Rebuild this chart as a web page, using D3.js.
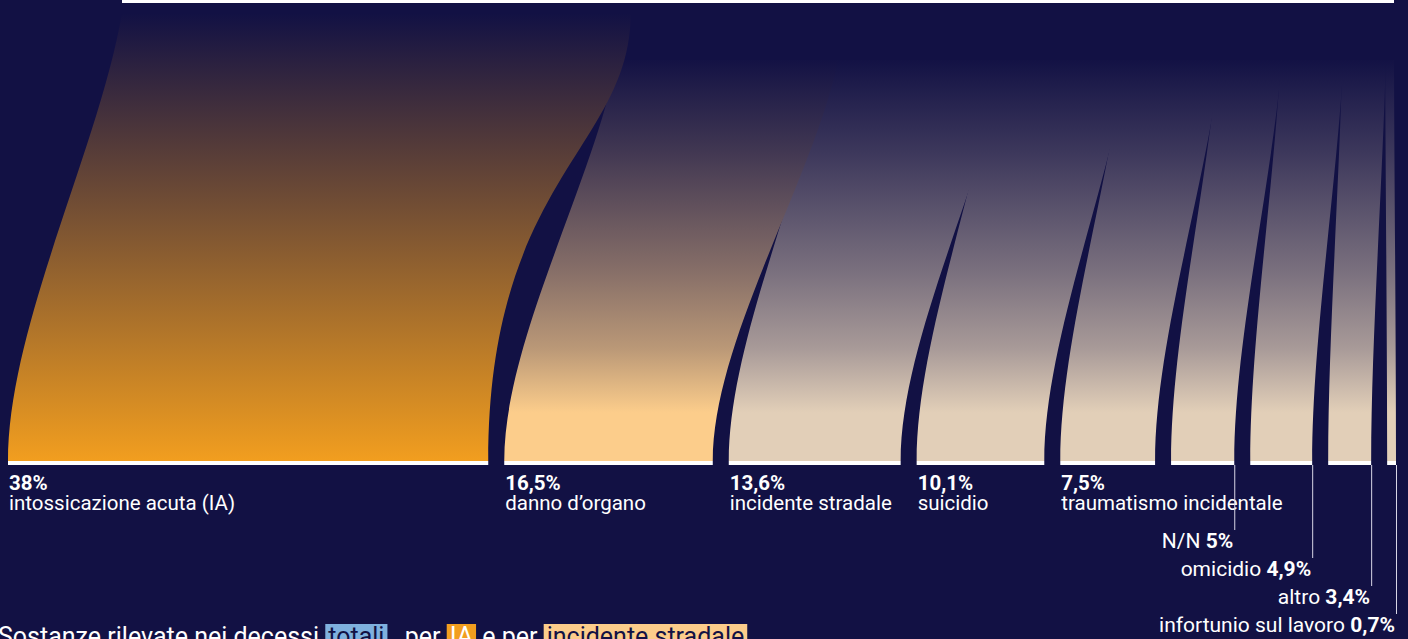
<!DOCTYPE html>
<html>
<head>
<meta charset="utf-8">
<script src="https://cdn.jsdelivr.net/npm/d3@7"></script>
<style>
  html, body { margin: 0; padding: 0; background: #121144; overflow: hidden; }
  svg { display: block; }
  text { font-family: Roboto, "Noto Sans", sans-serif; white-space: pre; }
</style>
</head>
<body>
<div id="chart"></div>
<script>
// causes of death, share of total (%)
const causes = ["intossicazione acuta (IA)", "danno d\u2019organo", "incidente stradale", "suicidio",
  "traumatismo incidentale", "N/N", "omicidio", "altro", "infortunio sul lavoro"];
const shares = [38, 16.5, 13.6, 10.1, 7.5, 5, 4.9, 3.4, 0.7];
const shareLabels = ["38%", "16,5%", "13,6%", "10,1%", "7,5%", "5%", "4,9%", "3,4%", "0,7%"];

// caption below the chart
const captionParts = ["Sostanze rilevate nei decessi ", "totali", " , per ", "IA", " e per ", "incidente stradale"];
const captionKeys = [null, "tot", null, "ia", null, "road"];

const width = 1408, height = 639;
const navy = "#121144";
const orange = "#f29e1f", peach = "#fccd8b", beige = "#e2cfb8";
const highlight = { tot: ["#7fb1df", navy], ia: [orange, "#ffffff"], road: [peach, navy] };

const baseY = 461;      // where the bands land on the bars
const gap = 16;         // gap between bottom bars
const bigCount = 5;     // bands labelled under the bar

const svg = d3.select("#chart").append("svg")
  .attr("width", width)
  .attr("height", height);

svg.append("rect").attr("width", width).attr("height", height).attr("fill", navy);

const total = d3.sum(shares);
const barLeft = 122;
const xTop = d3.scaleLinear().domain([0, total]).range([138, 1394]);
const xBottom = d3.scaleLinear().domain([0, total]).range([0, 1388 - gap * (shares.length - 1)]);

let cum = 0;
const bands = shares.map(function(v, i) {
  // wide bands overlap their right neighbour near the top
  const ov = i < shares.length - 1 ? Math.min(0.05 * v * v, 14) : 0;
  const b = {
    i: i,
    t0: i === 0 ? barLeft : xTop(cum),
    t1: xTop(cum + v) + ov,
    b0: 8 + xBottom(cum) + gap * i,
    b1: 8 + xBottom(cum + v) + gap * i,
    top: i === 0 ? 13 : 60
  };
  cum += v;
  return b;
});

function bandColor(i) {
  return i === 0 ? orange : (i === 1 ? peach : beige);
}

// vertical gradients, navy at the top fading into the band colour
const defs = svg.append("defs");
bands.forEach(function(b) {
  const mix = d3.interpolateRgb(navy, bandColor(b.i));
  const stops = b.i === 0
    ? [[0, 0], [1, 1]]
    : [[0, 0], [0.23, 0.2], [0.53, 0.5], [0.72, 0.72], [0.88, 1], [1, 1]];
  const g = defs.append("linearGradient")
    .attr("id", "grad" + b.i)
    .attr("gradientUnits", "userSpaceOnUse")
    .attr("x1", 0).attr("x2", 0)
    .attr("y1", b.i === 0 ? 13 : 58).attr("y2", baseY);
  stops.forEach(function(s) {
    g.append("stop").attr("offset", s[0]).attr("stop-color", mix(s[1]));
  });
});

// control points of an edge running from the top to the bottom bar
function edge(x0, y0, x1, y1, bulge) {
  const h = y1 - y0, dx = x1 - x0;
  if (bulge) return [[x0, y0 + 0.3 * h], [x1, y0 + 0.37 * h]];
  return [[x0 + 0.2 * dx, y0 + 0.3 * h], [x1, y0 + 0.7 * h]];
}

function bandPath(b) {
  const p = d3.path();
  const r = edge(b.t1, b.top, b.b1, baseY, b.i === 0);
  const l = edge(b.t0, b.top, b.b0, baseY, false);
  p.moveTo(b.t0, b.top);
  p.lineTo(b.t1, b.top);
  p.bezierCurveTo(r[0][0], r[0][1], r[1][0], r[1][1], b.b1, baseY);
  p.lineTo(b.b0, baseY);
  p.bezierCurveTo(l[1][0], l[1][1], l[0][0], l[0][1], b.t0, b.top);
  p.closePath();
  return p.toString();
}

// top bar
svg.append("rect")
  .attr("x", barLeft).attr("y", -4)
  .attr("width", xTop(total) - barLeft).attr("height", 7)
  .attr("fill", "#ffffff");

// bands, first one drawn last so it sits on top
svg.append("g").selectAll("path")
  .data(bands.slice().reverse())
  .enter()
  .append("path")
  .attr("d", bandPath)
  .attr("fill", function(d) { return "url(#grad" + d.i + ")"; });

// white bars under each band
svg.append("g").selectAll("rect")
  .data(bands)
  .enter()
  .append("rect")
  .attr("x", function(d) { return d.b0; })
  .attr("y", baseY)
  .attr("width", function(d) { return d.b1 - d.b0; })
  .attr("height", 4)
  .attr("fill", "#ffffff");

// labels for the large bands
const big = svg.append("g").selectAll("g")
  .data(bands.filter(function(d) { return d.i < bigCount; }))
  .enter()
  .append("g");

big.append("text")
  .attr("x", function(d) { return d.b0 + 1; })
  .attr("y", 490)
  .attr("fill", "#ffffff")
  .attr("font-size", 20.5)
  .attr("font-weight", 700)
  .text(function(d) { return shareLabels[d.i]; });

big.append("text")
  .attr("x", function(d) { return d.b0 + 1; })
  .attr("y", 510)
  .attr("fill", "#ffffff")
  .attr("font-size", 20.5)
  .text(function(d) { return causes[d.i]; });

// labels with leader lines for the small bands
const small = svg.append("g").selectAll("g")
  .data(bands.filter(function(d) { return d.i >= bigCount; }))
  .enter()
  .append("g");

small.append("line")
  .attr("x1", function(d) { return d.b1 + 0.5; })
  .attr("x2", function(d) { return d.b1 + 0.5; })
  .attr("y1", baseY + 4)
  .attr("y2", function(d) { return 548 + 28 * (d.i - bigCount) - 18; })
  .attr("stroke", "#d8d6e6")
  .attr("stroke-width", 1);

const smallText = small.append("text")
  .attr("x", function(d) { return d.b1 - 1; })
  .attr("y", function(d) { return 548 + 28 * (d.i - bigCount); })
  .attr("text-anchor", "end")
  .attr("fill", "#ffffff")
  .attr("font-size", 21);

smallText.append("tspan").text(function(d) { return causes[d.i] + " "; });
smallText.append("tspan").attr("font-weight", 700).text(function(d) { return shareLabels[d.i]; });

// caption with highlighted words
const caption = svg.append("g");
let cx = -2;
captionParts.forEach(function(part, i) {
  const key = captionKeys[i];
  const t = caption.append("text")
    .attr("x", cx)
    .attr("y", 645)
    .attr("font-size", 25)
    .attr("fill", key ? highlight[key][1] : "#ffffff")
    .text(part);
  const w = t.node().getComputedTextLength();
  if (key) {
    caption.insert("rect", function() { return t.node(); })
      .attr("x", cx)
      .attr("y", 624)
      .attr("width", w + 6)
      .attr("height", 30)
      .attr("fill", highlight[key][0]);
    t.attr("x", cx + 3);
    cx += w + 6;
  } else {
    cx += w;
  }
});
</script>
</body>
</html>
